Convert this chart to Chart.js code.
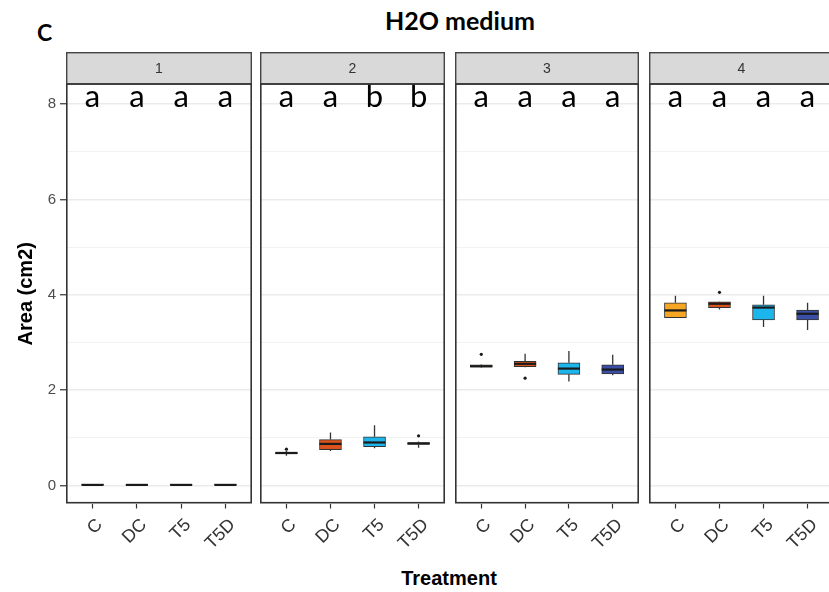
<!DOCTYPE html>
<html>
<head>
<meta charset="utf-8">
<script src="https://cdn.jsdelivr.net/npm/chart.js@4.4.1/dist/chart.umd.min.js"></script>
<style>
    body { margin: 0; width: 829px; height: 592px; overflow: hidden; background: #fff; position: relative; }
    canvas { position: absolute; top: 0; }
    .txt { position: absolute; white-space: nowrap; color: #000; }
    #plotTitle { left: 460px; top: 5px; transform: translateX(-50%); font: bold 25px Lato, sans-serif; }
    #panelTag { left: 37px; top: 18px; font: bold 23px Lato, sans-serif; }
    #xTitle { left: 449px; top: 567px; transform: translateX(-50%); font: bold 20px "Liberation Sans", Arial, sans-serif; }
</style>
</head>
<body>
<div class="txt" id="plotTitle">H2O medium</div>
<div class="txt" id="panelTag">C</div>
<div class="txt" id="xTitle">Treatment</div>
<canvas id="panel0" width="252" height="592" style="left:0px"></canvas>
<canvas id="panel1" width="185" height="592" style="left:260px"></canvas>
<canvas id="panel2" width="184" height="592" style="left:455px"></canvas>
<canvas id="panel3" width="185" height="592" style="left:649px"></canvas>
<script>
const facets = ['1', '2', '3', '4'];
const treatments = ['C', 'DC', 'T5', 'T5D'];
const boxColors = ['#F6A623', '#DC521C', '#1CB5EC', '#3B4FA6'];
const yTicks = [0, 1, 2, 3, 4, 5, 6, 7, 8];

// one row per facet, one value per treatment (C, DC, T5, T5D)
const lowWhisker = [
    [0, 0, 0, 0],
    [0.62, 0.72, 0.78, 0.79],
    [2.47, 2.48, 2.18, 2.31],
    [3.51, 3.69, 3.32, 3.26]
];
const lowerQuartile = [
    [0, 0, 0, 0],
    [0.66, 0.75, 0.81, 0.86],
    [2.48, 2.49, 2.33, 2.34],
    [3.52, 3.73, 3.47, 3.47]
];
const medians = [
    [0.01, 0.01, 0.01, 0.01],
    [0.68, 0.87, 0.90, 0.88],
    [2.50, 2.55, 2.45, 2.43],
    [3.67, 3.81, 3.73, 3.60]
];
const upperQuartile = [
    [0.02, 0.02, 0.02, 0.02],
    [0.69, 0.96, 1.02, 0.90],
    [2.53, 2.60, 2.57, 2.53],
    [3.83, 3.85, 3.79, 3.68]
];
const highWhisker = [
    [0.02, 0.02, 0.02, 0.02],
    [0.72, 1.11, 1.26, 0.92],
    [2.54, 2.76, 2.82, 2.74],
    [3.98, 3.86, 3.98, 3.83]
];
const outliers = [
    [[], [], [], []],
    [[0.76], [], [], [1.04]],
    [[2.75], [2.25], [], []],
    [[], [4.05], [], []]
];
const groupLetters = [
    ['a', 'a', 'a', 'a'],
    ['a', 'a', 'b', 'b'],
    ['a', 'a', 'a', 'a'],
    ['a', 'a', 'a', 'a']
];
const letterLevel = 7.93;

// strip on top, whiskers/medians/outliers, letters and the panel frame
const facetDecor = {
    id: 'facetDecor',
    afterDatasetsDraw(chart) {
        const f = chart.options.facetIndex;
        const ctx = chart.ctx;
        const x = chart.scales.x, y = chart.scales.y;
        ctx.save();
        treatments.forEach((t, i) => {
            const cx = x.getPixelForValue(i + 1);
            ctx.strokeStyle = '#333';
            ctx.lineWidth = 1.3;
            ctx.beginPath();
            ctx.moveTo(cx, y.getPixelForValue(upperQuartile[f][i]));
            ctx.lineTo(cx, y.getPixelForValue(highWhisker[f][i]));
            ctx.moveTo(cx, y.getPixelForValue(lowerQuartile[f][i]));
            ctx.lineTo(cx, y.getPixelForValue(lowWhisker[f][i]));
            ctx.stroke();

            ctx.strokeStyle = '#1a1a1a';
            ctx.lineWidth = 2.2;
            ctx.beginPath();
            ctx.moveTo(cx - 11, y.getPixelForValue(medians[f][i]));
            ctx.lineTo(cx + 11, y.getPixelForValue(medians[f][i]));
            ctx.stroke();

            ctx.fillStyle = '#1a1a1a';
            outliers[f][i].forEach(v => {
                ctx.beginPath();
                ctx.arc(cx, y.getPixelForValue(v), 1.6, 0, Math.PI * 2);
                ctx.fill();
            });

            ctx.fillStyle = '#000';
            ctx.font = '31px Lato, sans-serif';
            ctx.textAlign = 'center';
            ctx.textBaseline = 'alphabetic';
            ctx.fillText(groupLetters[f][i], cx, y.getPixelForValue(letterLevel));
        });
        ctx.restore();
    },
    afterDraw(chart) {
        const f = chart.options.facetIndex;
        const a = chart.chartArea;
        const ctx = chart.ctx;
        ctx.save();
        ctx.fillStyle = '#D9D9D9';
        ctx.fillRect(a.left, 52, a.right - a.left, a.top - 52);
        ctx.strokeStyle = '#444';
        ctx.lineWidth = 1.4;
        ctx.strokeRect(a.left + 0.7, 52.7, a.right - a.left - 1.4, a.top - 52.7);
        ctx.fillStyle = '#333';
        ctx.font = '14px "Liberation Sans", Arial, sans-serif';
        ctx.textAlign = 'center';
        ctx.textBaseline = 'middle';
        ctx.fillText(facets[f], (a.left + a.right) / 2, (52 + a.top) / 2 + 1);
        ctx.strokeStyle = '#333';
        ctx.lineWidth = 1.6;
        ctx.strokeRect(a.left + 0.8, a.top, a.right - a.left - 1.6, a.bottom - a.top - 0.8);
        ctx.restore();
    }
};

function makePanel(f) {
    const first = f === 0;
    const canvas = document.getElementById('panel' + f);
    return new Chart(canvas, {
        type: 'bar',
        data: {
            datasets: [{
                data: treatments.map((t, i) => ({ x: i + 1, y: [lowerQuartile[f][i], upperQuartile[f][i]] })),
                backgroundColor: boxColors,
                borderColor: '#333',
                borderWidth: 1,
                borderSkipped: false,
                barThickness: 22
            }]
        },
        options: {
            facetIndex: f,
            responsive: false,
            animation: false,
            layout: { padding: { top: 84, left: 0, right: 0, bottom: 0 } },
            plugins: { legend: { display: false }, tooltip: { enabled: false } },
            scales: {
                x: {
                    type: 'linear',
                    offset: false,
                    min: 0.4,
                    max: 4.6,
                    afterBuildTicks: s => { s.ticks = treatments.map((t, i) => ({ value: i + 1 })); },
                    afterFit: s => {
                        s.height = 88.5;
                        s.paddingLeft = 0;
                        s.paddingRight = 0;
                    },
                    border: { display: false },
                    grid: { offset: false, drawOnChartArea: false, tickLength: 5, tickColor: '#333', tickWidth: 1.2 },
                    ticks: {
                        callback: v => treatments[v - 1],
                        autoSkip: false,
                        minRotation: 45,
                        maxRotation: 45,
                        labelOffset: 7,
                        padding: 6,
                        color: '#333',
                        font: { family: '"Liberation Sans", Arial, sans-serif', size: 18 }
                    }
                },
                y: {
                    min: -0.38,
                    max: 8.42,
                    afterBuildTicks: s => { s.ticks = yTicks.map(v => ({ value: v })); },
                    afterFit: s => { s.width = first ? 66 : 0; },
                    border: { display: false },
                    grid: {
                        color: c => (c.tick && c.tick.value % 2) ? '#F2F2F2' : '#EBEBEB',
                        lineWidth: c => (c.tick && c.tick.value % 2) ? 1 : 1.5,
                        drawTicks: first,
                        tickLength: 6,
                        tickWidth: 1.2,
                        tickColor: c => (c.tick && c.tick.value % 2) ? 'rgba(0,0,0,0)' : '#333'
                    },
                    ticks: {
                        display: first,
                        callback: v => (v % 2 ? '' : v),
                        padding: 4,
                        color: '#4D4D4D',
                        font: { family: '"Liberation Sans", Arial, sans-serif', size: 15 }
                    },
                    title: {
                        display: first,
                        text: 'Area (cm2)',
                        color: '#000',
                        padding: { top: 14, bottom: 0 },
                        font: { family: '"Liberation Sans", Arial, sans-serif', size: 20, weight: 'bold' }
                    }
                }
            }
        },
        plugins: [facetDecor]
    });
}

facets.forEach((name, f) => makePanel(f));
</script>
</body>
</html>
